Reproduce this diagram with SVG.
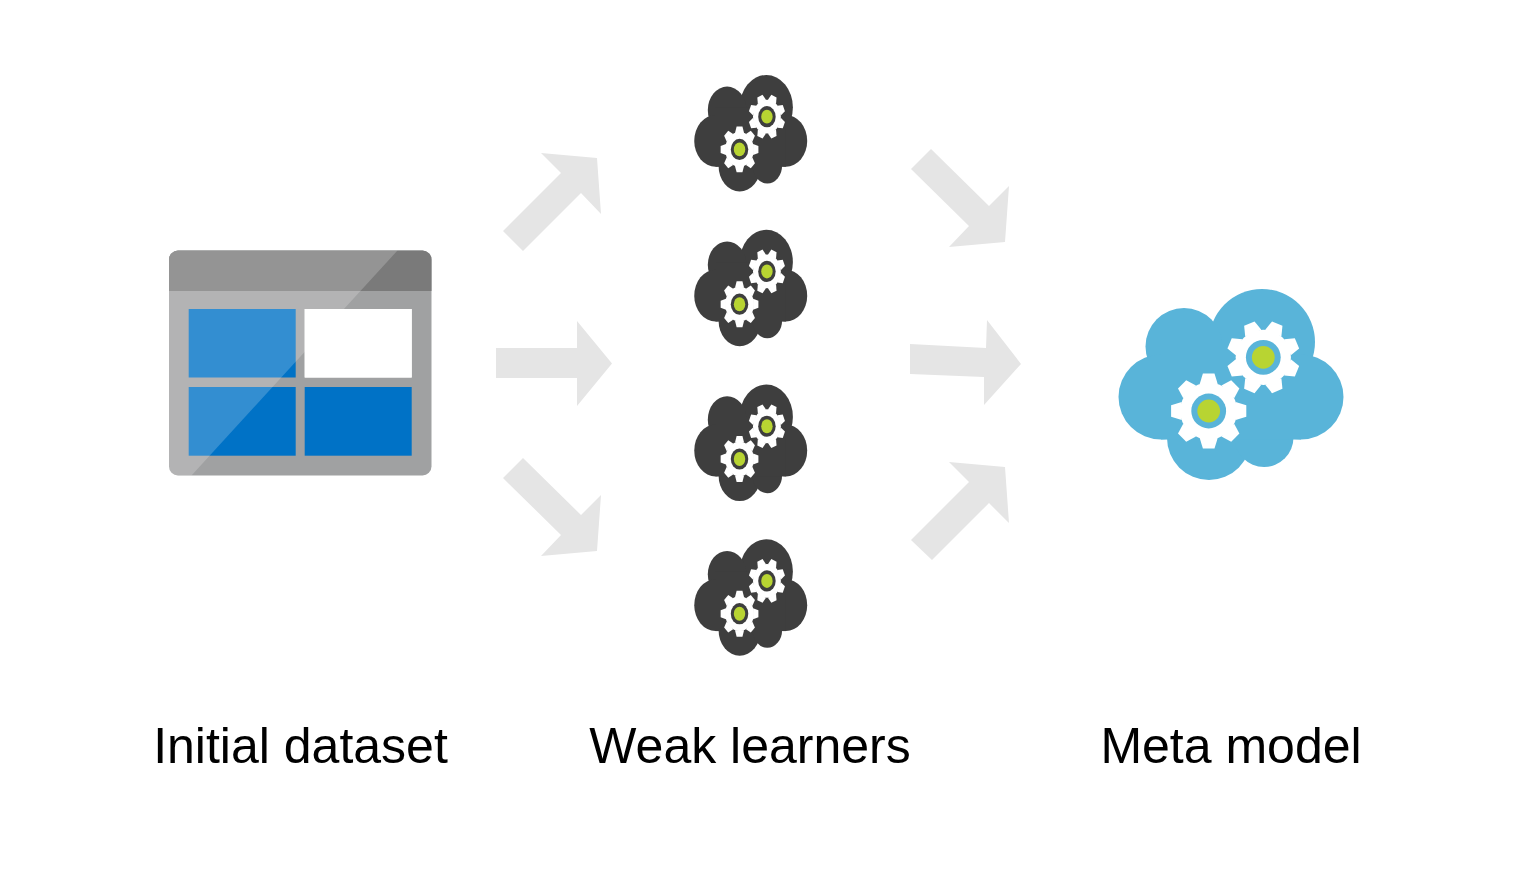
<svg xmlns="http://www.w3.org/2000/svg" xmlns:xlink="http://www.w3.org/1999/xlink" width="1530" height="896" viewBox="0 0 1530 896">
<style>
.arrow{fill:#e5e5e5}
.label{font-family:"Liberation Sans",Arial,sans-serif;font-size:50px;fill:#000;text-anchor:middle}
.blue{fill:#0072c6}
.gear{fill:#fff}
.hubg{fill:#b8d432}
</style>
<defs>
<g id="gearShape">
<circle r="28.5"/>
<polygon id="tooth" points="-9,-27 -5.8,-37.6 5.8,-37.6 9,-27"/>
<use xlink:href="#tooth" href="#tooth" transform="rotate(45)"/>
<use xlink:href="#tooth" href="#tooth" transform="rotate(90)"/>
<use xlink:href="#tooth" href="#tooth" transform="rotate(135)"/>
<use xlink:href="#tooth" href="#tooth" transform="rotate(180)"/>
<use xlink:href="#tooth" href="#tooth" transform="rotate(225)"/>
<use xlink:href="#tooth" href="#tooth" transform="rotate(270)"/>
<use xlink:href="#tooth" href="#tooth" transform="rotate(315)"/>
</g>
<g id="cloud">
<circle cx="1262" cy="342" r="53"/>
<circle cx="1184" cy="346.5" r="38.5"/>
<circle cx="1161" cy="397" r="42.5"/>
<circle cx="1301" cy="397" r="42.5"/>
<circle cx="1209" cy="438" r="42"/>
<circle cx="1264" cy="437.5" r="29.5"/>
<rect x="1161" y="342" width="140" height="97.5"/>
<use xlink:href="#gearShape" href="#gearShape" class="gear" transform="translate(1263.3 357.3) rotate(22.5) scale(.97)"/>
<use xlink:href="#gearShape" href="#gearShape" class="gear" transform="translate(1208.7 411)"/>
<circle cx="1263.3" cy="357.3" r="17.4"/>
<circle cx="1208.7" cy="411" r="17.4"/>
<circle class="hubg" cx="1263.3" cy="357.3" r="11.4"/>
<circle class="hubg" cx="1208.7" cy="411" r="11.4"/>
</g>
</defs>
<rect width="1530" height="896" fill="#fff"/>
<g id="connectors">
<polygon class="arrow" points="503,231 523,251 581,193 601,214 597,158 541,153 561,173"/>
<polygon class="arrow" points="496,348 577,348 577,321 612,363.500 577,406 577,378 496,378"/>
<polygon class="arrow" points="503,478 561,535 541,556 597,551 601,495 581,515 523,458"/>
<polygon class="arrow" points="911,169 969,226 949,247 1005,242 1009,186 989,206 931,149"/>
<polygon class="arrow" points="910,344 910,374 984,377 984,405 1021,364 987,320 986,348"/>
<polygon class="arrow" points="911,540 932,560 989,503 1009,523 1005,467 949,462 969,482"/>
</g>
<g id="initial-dataset">
<rect x="169" y="250.500" width="262.500" height="225" rx="9" fill="#a0a1a2"/>
<path d="M169 291V259.500a9 9 0 0 1 9-9H422.500a9 9 0 0 1 9 9V291Z" fill="#7a7a7a"/>
<rect class="blue" x="188.700" y="309" width="107" height="68.500"/>
<rect x="304.700" y="309" width="107" height="68.500" fill="#fff"/>
<rect class="blue" x="188.700" y="387" width="107" height="68.700"/>
<rect class="blue" x="304.700" y="387" width="107" height="68.700"/>
<path d="M397.500 250.500H178a9 9 0 0 0-9 9V466.500a9 9 0 0 0 9 9H191.500Z" fill="#fff" fill-opacity=".2"/>
<rect x="304.700" y="309" width="107" height="68.500" fill="#fff"/>
<text class="label" x="300.500" y="763">Initial dataset</text>
</g>
<g id="weak-learner-1"><use xlink:href="#cloud" href="#cloud" fill="#3e3e3e" transform="translate(132.760 -101.290) scale(.502 .61)"/></g>
<g id="weak-learner-2"><use xlink:href="#cloud" href="#cloud" fill="#3e3e3e" transform="translate(132.760 53.500) scale(.502 .61)"/></g>
<g id="weak-learner-3"><use xlink:href="#cloud" href="#cloud" fill="#3e3e3e" transform="translate(132.760 208.300) scale(.502 .61)"/></g>
<g id="weak-learner-4"><use xlink:href="#cloud" href="#cloud" fill="#3e3e3e" transform="translate(132.760 363) scale(.502 .61)"/></g>
<text id="weak-learners-label" class="label" x="750" y="763">Weak learners</text>
<g id="meta-model">
<use xlink:href="#cloud" href="#cloud" fill="#59b4d9"/>
<text class="label" x="1231" y="763">Meta model</text>
</g>
</svg>
